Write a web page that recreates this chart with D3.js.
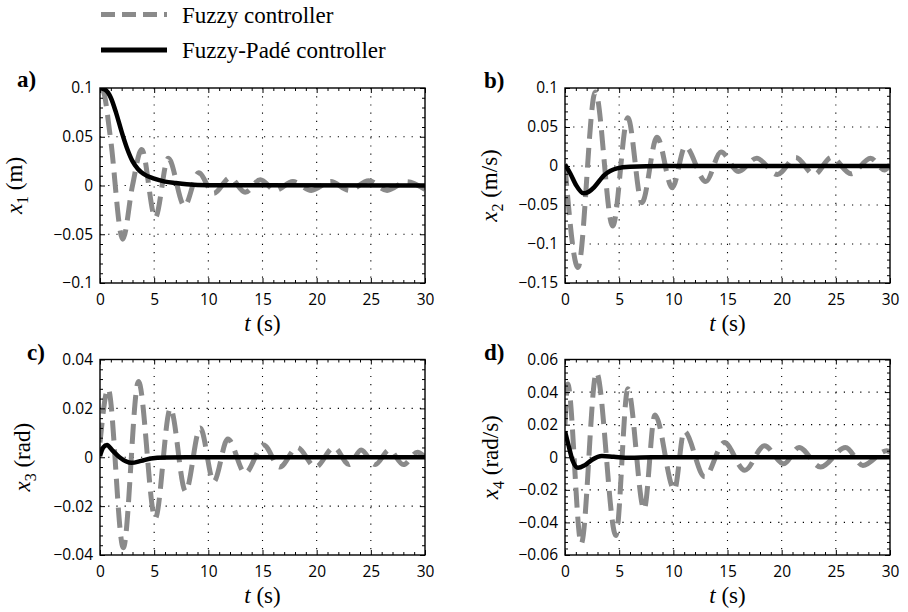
<!DOCTYPE html>
<html><head><meta charset="utf-8">
<script src="https://cdn.jsdelivr.net/npm/d3@7"></script>
<style>body{margin:0;background:#fff}svg{display:block}</style>
</head><body>
<svg id="chart" width="908" height="612"></svg>
<script>
// ---------------- data ----------------
const seriesNames = ["Fuzzy controller", "Fuzzy-Padé controller"];
const xTicks = [0, 5, 10, 15, 20, 25, 30];

// a) x1 (m)
const aYTicks = [0.1, 0.05, 0, -0.05, -0.1];
const aFuzzyT = [0, 0.3, 0.95, 2.1, 3.0, 3.85, 5.1, 6.3, 7.8, 9.1, 10.5, 12.0, 13.4, 14.8, 16.2, 17.8, 19.5, 21.3, 23.0, 24.8, 26.5, 28.3, 30];
const aFuzzyV = [0.1, 0.097, 0.05, -0.055, 0.0, 0.037, -0.033, 0.028, -0.021, 0.013, -0.008, 0.008, -0.007, 0.006, -0.005, 0.004, -0.005, 0.004, -0.005, 0.005, -0.005, 0.004, -0.004];
const aPadeT = [0, 0.5, 1.0, 1.5, 2.0, 2.5, 3.0, 3.5, 4.0, 5.0, 6.0, 7.0, 8.0, 10, 30];
const aPadeV = [0.1, 0.098, 0.09, 0.074, 0.055, 0.038, 0.025, 0.017, 0.012, 0.007, 0.004, 0.0025, 0.0013, 0.0003, 0];

// b) x2 (m/s)
const bYTicks = [0.1, 0.05, 0, -0.05, -0.1, -0.15];
const bFuzzyT = [0, 1.2, 2.8, 4.4, 5.8, 7.1, 8.5, 9.9, 11.1, 13.0, 14.4, 16.0, 17.7, 19.6, 21.3, 23.0, 24.6, 26.4, 28.2, 29.5, 30];
const bFuzzyV = [0, -0.13, 0.095, -0.077, 0.062, -0.047, 0.037, -0.028, 0.025, -0.02, 0.018, -0.007, 0.01, -0.011, 0.011, -0.011, 0.011, -0.01, 0.01, -0.005, 0.002];
const bPadeT = [0, 0.5, 1.0, 1.7, 2.2, 2.7, 3.6, 4.8, 6.0, 9.0, 30];
const bPadeV = [0.002, -0.01, -0.024, -0.035, -0.033, -0.027, -0.012, -0.003, -0.001, 0, 0];

// c) x3 (rad)
const cYTicks = [0.04, 0.02, 0, -0.02, -0.04];
const cFuzzyT = [0, 0.75, 2.15, 3.55, 5.1, 6.5, 7.9, 9.25, 10.5, 11.8, 13.4, 15.1, 16.6, 18.2, 19.9, 21.6, 23.0, 24.1, 25.4, 26.7, 28.0, 29.3, 30];
const cFuzzyV = [0.006, 0.028, -0.037, 0.031, -0.025, 0.020, -0.014, 0.012, -0.010, 0.0075, -0.0065, 0.005, -0.004, 0.004, -0.004, 0.004, -0.003, 0.003, -0.003, 0.003, -0.003, 0.002, 0];
const cPadeT = [0, 0.3, 0.65, 1.1, 1.8, 2.9, 3.8, 4.7, 6.0, 8.0, 30];
const cPadeV = [0.0005, 0.004, 0.005, 0.003, 0, -0.0023, -0.0015, -0.0005, -0.0001, 0, 0];

// d) x4 (rad/s)
const dYTicks = [0.06, 0.04, 0.02, 0, -0.02, -0.04, -0.06];
const dFuzzyT = [0, 0.25, 1.5, 2.9, 4.7, 5.8, 7.3, 8.3, 10.1, 11.0, 12.9, 14.7, 16.6, 18.4, 20.2, 21.6, 23.6, 25.9, 27.5, 29.7, 30];
const dFuzzyV = [0.02, 0.045, -0.053, 0.052, -0.048, 0.042, -0.032, 0.026, -0.02, 0.016, -0.012, 0.009, -0.008, 0.007, -0.004, 0.006, -0.006, 0.006, -0.005, 0.004, 0.003];
const dPadeT = [0, 0.3, 0.7, 1.2, 1.8, 2.5, 3.4, 4.5, 6.0, 8.0, 30];
const dPadeV = [0.016, 0.008, -0.002, -0.0065, -0.005, -0.0015, 0.0008, 0.0003, -0.0003, 0, 0];

// ---------------- layout / style ----------------
const GRAY = "#8a8a8a";
const SERIF = "'Liberation Serif', 'Times New Roman', serif";
const svg = d3.select("#chart");
const panels = [
  {id:"a", letter:"a)", lx:17, ly:87, left:100, right:425, top:88, bottom:283, yTicks:aYTicks, sub:"1", unit:" (m)", labX:22,
   fT:aFuzzyT, fV:aFuzzyV, pT:aPadeT, pV:aPadeV},
  {id:"b", letter:"b)", lx:484, ly:88, left:565, right:890, top:88, bottom:283, yTicks:bYTicks, sub:"2", unit:" (m/s)", labX:497,
   fT:bFuzzyT, fV:bFuzzyV, pT:bPadeT, pV:bPadeV},
  {id:"c", letter:"c)", lx:27, ly:360, left:100, right:425, top:359.5, bottom:555, yTicks:cYTicks, sub:"3", unit:" (rad)", labX:30,
   fT:cFuzzyT, fV:cFuzzyV, pT:cPadeT, pV:cPadeV},
  {id:"d", letter:"d)", lx:484, ly:360, left:565, right:890, top:359.5, bottom:555, yTicks:dYTicks, sub:"4", unit:" (rad/s)", labX:498,
   fT:dFuzzyT, fV:dFuzzyV, pT:dPadeT, pV:dPadeV}
];

const fmt = v => v === 0 ? "0" : (v < 0 ? "\u2212" + String(-v) : String(v));

function minorOf(ticks) {
  const s = [...ticks].sort((p, q) => p - q);
  const step = (s[1] - s[0]) / 5;
  const out = [];
  for (let i = 0; i < s.length - 1; i++)
    for (let k = 1; k < 5; k++) out.push(+(s[i] + k * step).toFixed(6));
  return out;
}

const defs = svg.append("defs");

panels.forEach(p => {
  const yMin = d3.min(p.yTicks), yMax = d3.max(p.yTicks);
  const x = d3.scaleLinear().domain([0, 30]).range([p.left, p.right]);
  const y = d3.scaleLinear().domain([yMin, yMax]).range([p.bottom, p.top]);
  const g = svg.append("g");
  const W = p.right - p.left, H = p.bottom - p.top;

  defs.append("clipPath").attr("id", "clip" + p.id)
    .append("rect").attr("x", p.left).attr("y", p.top).attr("width", W).attr("height", H);

  // grid
  const gx = xTicks.filter(v => v > 0 && v < 30);
  const gy = p.yTicks.filter(v => v > yMin && v < yMax);
  g.selectAll(null).data(gx).enter().append("line")
    .attr("x1", d => x(d)).attr("x2", d => x(d)).attr("y1", p.top).attr("y2", p.bottom)
    .attr("stroke", "#000").attr("stroke-width", 1.1).attr("stroke-dasharray", "1.2,7");
  g.selectAll(null).data(gy).enter().append("line")
    .attr("y1", d => y(d)).attr("y2", d => y(d)).attr("x1", p.left).attr("x2", p.right)
    .attr("stroke", "#000").attr("stroke-width", 1.1).attr("stroke-dasharray", "1.2,7");

  // curves
  const line = d3.line().x(d => x(d[0])).y(d => y(d[1])).curve(d3.curveMonotoneX);
  const cg = g.append("g").attr("clip-path", `url(#clip${p.id})`);
  cg.append("path").datum(d3.zip(p.fT, p.fV)).attr("d", line)
    .attr("fill", "none").attr("stroke", GRAY).attr("stroke-width", 5)
    .attr("stroke-dasharray", "20,9");
  cg.append("path").datum(d3.zip(p.pT, p.pV)).attr("d", line)
    .attr("fill", "none").attr("stroke", "#000").attr("stroke-width", 4.5);

  // axes
  const tickFont = g => g.selectAll("text").attr("font-family", "'Open Sans', sans-serif")
    .attr("font-size", 15.5).attr("fill", "#000");
  const clean = g => { g.select(".domain").remove(); g.selectAll("line").attr("stroke", "#000").attr("stroke-width", 1); };

  g.append("g").attr("transform", `translate(0,${p.bottom})`)
    .call(d3.axisBottom(x).tickValues(xTicks).tickFormat(fmt).tickSize(-5).tickSizeOuter(0).tickPadding(11))
    .call(clean).call(tickFont);
  g.append("g").attr("transform", `translate(0,${p.bottom})`)
    .call(d3.axisBottom(x).tickValues(minorOf(xTicks)).tickFormat("").tickSize(-3).tickSizeOuter(0)).call(clean);
  g.append("g").attr("transform", `translate(0,${p.top})`)
    .call(d3.axisTop(x).tickValues(xTicks).tickFormat("").tickSize(-5).tickSizeOuter(0)).call(clean);
  g.append("g").attr("transform", `translate(0,${p.top})`)
    .call(d3.axisTop(x).tickValues(minorOf(xTicks)).tickFormat("").tickSize(-3).tickSizeOuter(0)).call(clean);

  g.append("g").attr("transform", `translate(${p.left},0)`)
    .call(d3.axisLeft(y).tickValues(p.yTicks).tickFormat(fmt).tickSize(-5).tickSizeOuter(0).tickPadding(7))
    .call(clean).call(tickFont);
  g.append("g").attr("transform", `translate(${p.left},0)`)
    .call(d3.axisLeft(y).tickValues(minorOf(p.yTicks)).tickFormat("").tickSize(-3).tickSizeOuter(0)).call(clean);
  g.append("g").attr("transform", `translate(${p.right},0)`)
    .call(d3.axisRight(y).tickValues(p.yTicks).tickFormat("").tickSize(-5).tickSizeOuter(0)).call(clean);
  g.append("g").attr("transform", `translate(${p.right},0)`)
    .call(d3.axisRight(y).tickValues(minorOf(p.yTicks)).tickFormat("").tickSize(-3).tickSizeOuter(0)).call(clean);

  // frame
  g.append("rect").attr("x", p.left).attr("y", p.top).attr("width", W).attr("height", H)
    .attr("fill", "none").attr("stroke", "#000").attr("stroke-width", 1.4);

  // x label
  const xl = g.append("text").attr("x", (p.left + p.right) / 2).attr("y", p.bottom + 48)
    .attr("text-anchor", "middle").attr("font-family", SERIF).attr("font-size", 23);
  xl.append("tspan").attr("font-style", "italic").text("t");
  xl.append("tspan").text(" (s)");

  // y label
  const yl = g.append("text").attr("transform", `translate(${p.labX},${(p.top + p.bottom) / 2}) rotate(-90)`)
    .attr("text-anchor", "middle").attr("font-family", SERIF).attr("font-size", 23);
  yl.append("tspan").attr("font-style", "italic").text("x");
  yl.append("tspan").attr("font-size", 16).attr("dy", 6).text(p.sub);
  yl.append("tspan").attr("dy", -6).text(p.unit);

  // panel letter
  g.append("text").attr("x", p.lx).attr("y", p.ly).attr("font-family", SERIF)
    .attr("font-weight", "bold").attr("font-size", 23).text(p.letter);
});

// legend
const legend = svg.append("g");
const legendRows = [
  {name: seriesNames[0], y: 14.5, color: GRAY, width: 5, dash: "14,7"},
  {name: seriesNames[1], y: 50, color: "#000", width: 5, dash: null}
];
legendRows.forEach(r => {
  legend.append("line").attr("x1", 101).attr("x2", 167).attr("y1", r.y).attr("y2", r.y)
    .attr("stroke", r.color).attr("stroke-width", r.width).attr("stroke-dasharray", r.dash);
  legend.append("text").attr("x", 182).attr("y", r.y + 8.3)
    .attr("font-family", SERIF).attr("font-size", 23).text(r.name);
});
</script>
</body></html>
